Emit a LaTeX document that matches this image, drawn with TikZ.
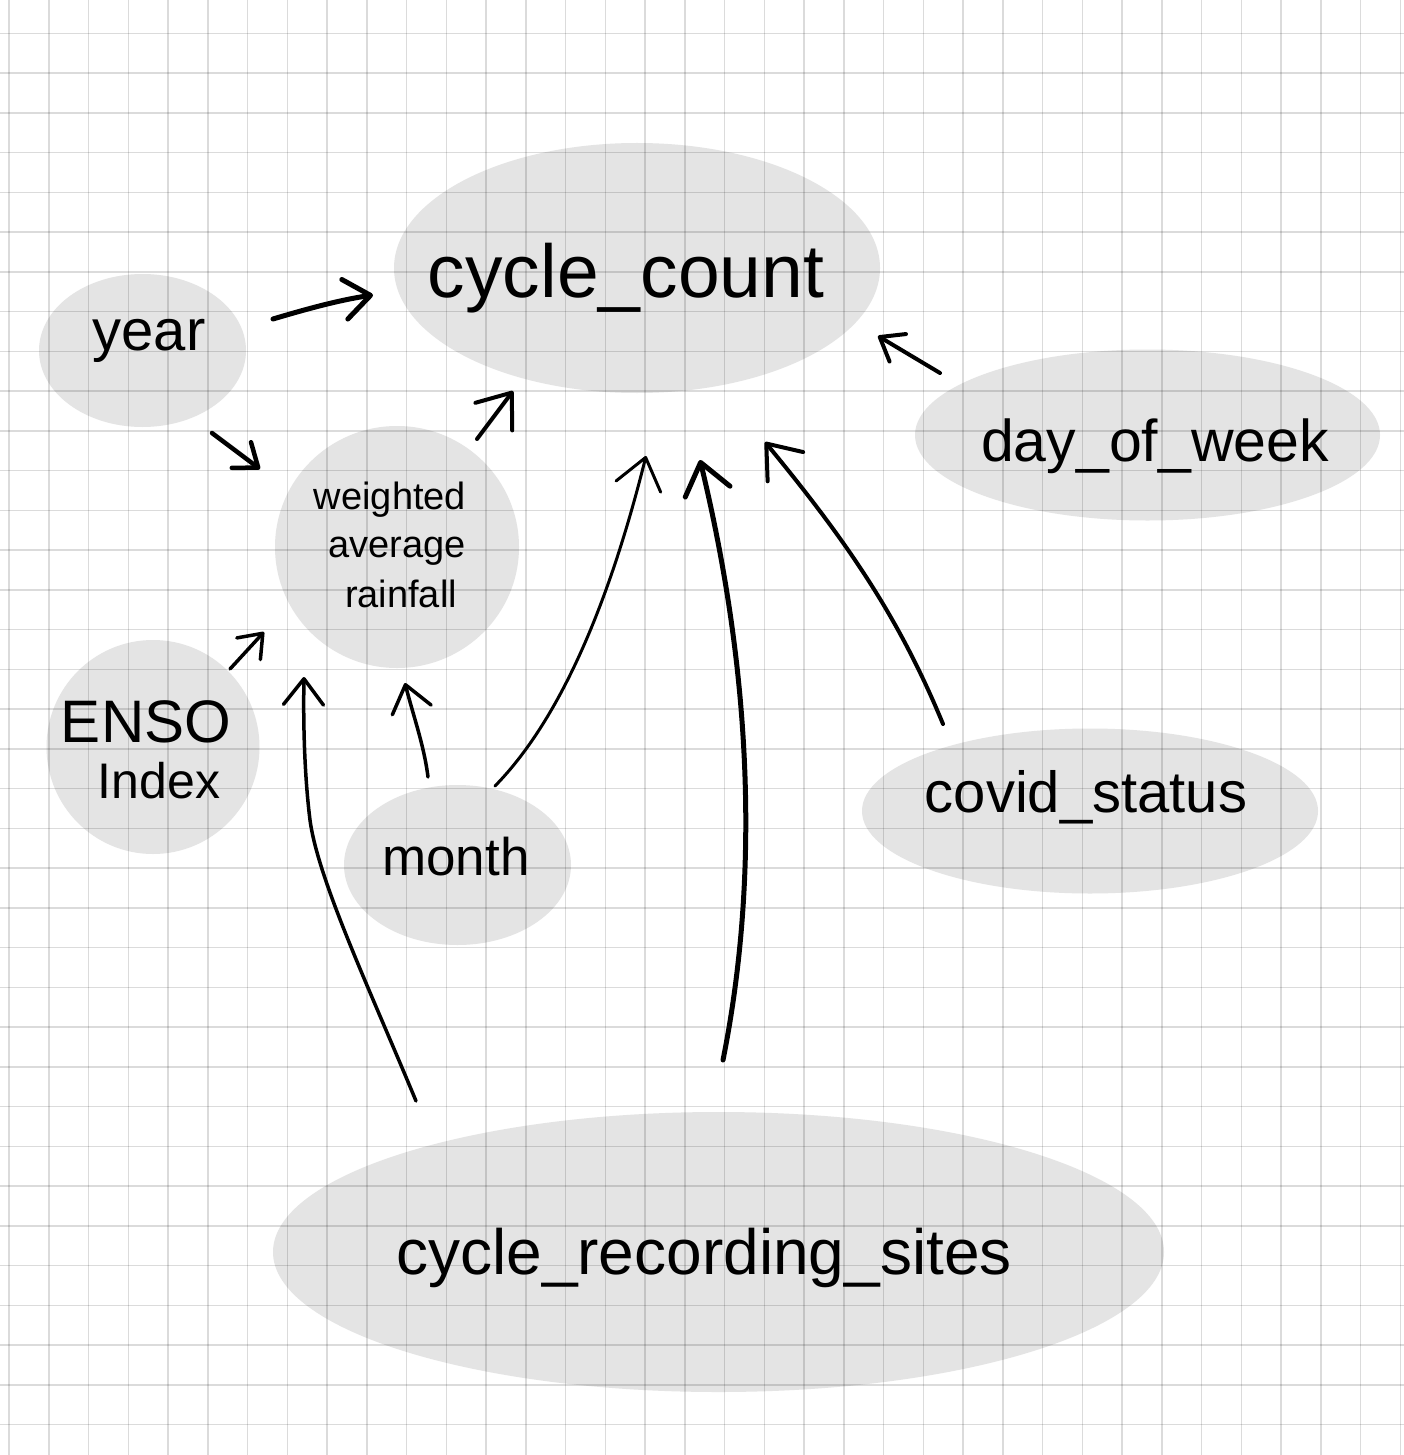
\documentclass[tikz,border=0pt]{standalone}
\usepackage{fontspec}
\setmainfont{Liberation Sans}
\usetikzlibrary{shapes.geometric,arrows.meta}
\definecolor{ellfill}{HTML}{E4E4E4}
\begin{document}
\begin{tikzpicture}[x=1pt,y=-1pt,
  blob/.style={ellipse,fill=ellfill,draw=none,inner sep=0pt},
  lbl/.style={anchor=base,inner sep=0pt,text=black},
  gridline/.style={black,opacity=0.14,line width=1.5pt},
  conn/.style={line cap=round,line join=round,draw=black},
  bighead/.style={-{Straight Barb[length=30pt,width=46pt,round]}},
  midhead/.style={-{Straight Barb[length=26pt,width=40pt,round]}},
  smallhead/.style={-{Straight Barb[length=21pt,width=32pt,round]}}
]
\fill[white] (0,0) rectangle (1404,1455);
\useasboundingbox (0,0) rectangle (1404,1455);

% ellipses
\node[blob,minimum width=486pt,minimum height=250pt] (cc) at (637,268) {};
\node[blob,minimum width=207pt,minimum height=153pt] (year) at (142.5,350.5) {};
\node[blob,minimum width=244pt,minimum height=242pt] (rain) at (397,547) {};
\node[blob,minimum width=213pt,minimum height=214pt] (enso) at (153,747) {};
\node[blob,minimum width=227pt,minimum height=160pt] (month) at (457.5,865) {};
\node[blob,minimum width=465pt,minimum height=171pt] (day) at (1147.5,435) {};
\node[blob,minimum width=456pt,minimum height=165pt] (covid) at (1090,811) {};
\node[blob,minimum width=891pt,minimum height=280pt] (sites) at (718.5,1252) {};

% grid
\foreach \i in {0,...,35} {
  \draw[gridline] ({9+39.75*\i},0) -- ({9+39.75*\i},1455);
}
\foreach \j in {0,...,35} {
  \draw[gridline] (0,{33.3+39.75*\j}) -- (1404,{33.3+39.75*\j});
}

% labels
\node[lbl,font=\fontsize{75pt}{80pt}\selectfont] (cc-t) at (626,297) {cycle\_count};
\node[lbl,font=\fontsize{58pt}{62pt}\selectfont] (year-t) at (149,350) {year};
\node[lbl,font=\fontsize{38pt}{42pt}\selectfont] (rain-t1) at (390,509) {weighted};
\node[lbl,font=\fontsize{38pt}{42pt}\selectfont] (rain-t2) at (397,557) {average};
\node[lbl,font=\fontsize{38pt}{42pt}\selectfont] (rain-t3) at (401,607) {rainfall};
\node[lbl,font=\fontsize{60pt}{64pt}\selectfont] (enso-t1) at (146,742) {ENSO};
\node[lbl,font=\fontsize{50pt}{54pt}\selectfont] (enso-t2) at (159,798) {Index};
\node[lbl,font=\fontsize{53pt}{57pt}\selectfont] (month-t) at (456,875) {month};
\node[lbl,font=\fontsize{59pt}{63pt}\selectfont] (day-t) at (1155,461) {day\_of\_week};
\node[lbl,font=\fontsize{58pt}{62pt}\selectfont] (covid-t) at (1086,812) {covid\_status};
\node[lbl,font=\fontsize{64pt}{68pt}\selectfont] (sites-t) at (704,1274) {cycle\_recording\_sites};

% connector end points
\coordinate (y2c-a) at (273,319);  \coordinate (y2c-b) at (373,295);
\coordinate (y2r-a) at (212,433);  \coordinate (y2r-b) at (260,469);
\coordinate (r2c-a) at (477,439);  \coordinate (r2c-b) at (513,391);
\coordinate (e2r-a) at (230,669);  \coordinate (e2r-b) at (264,632);
\coordinate (m2r-a) at (428,777);  \coordinate (m2r-b) at (405,683);
\coordinate (s2r-a) at (416,1101); \coordinate (s2r-m) at (310,820); \coordinate (s2r-b) at (304,677);
\coordinate (m2c-a) at (495,786);  \coordinate (m2c-b) at (646,456);
\coordinate (s2c-a) at (723,1060); \coordinate (s2c-b) at (700,460);
\coordinate (v2c-a) at (943,724);  \coordinate (v2c-b) at (765,442);
\coordinate (d2c-a) at (940,373);  \coordinate (d2c-b) at (878,336);

% connectors
\draw[conn,midhead,line width=5pt] (y2c-a) .. controls (310,308) and (340,300) .. (y2c-b);
\draw[conn,smallhead,line width=4.5pt] (y2r-a) -- (y2r-b);
\draw[conn,bighead,line width=4pt] (r2c-a) -- (r2c-b);
\draw[conn,smallhead,line width=3.5pt] (e2r-a) -- (e2r-b);
\draw[conn,midhead,line width=3.5pt] (m2r-a) .. controls (424,745) and (413,715) .. (m2r-b);
\draw[conn,midhead,line width=3.5pt] (s2r-a) .. controls (370,990) and (318,880) .. (s2r-m)
   .. controls (305,780) and (303,730) .. (s2r-b);
\draw[conn,bighead,line width=3pt] (m2c-a) .. controls (545,735) and (600,640) .. (m2c-b);
\draw[conn,bighead,line width=5pt] (s2c-a) .. controls (755,900) and (758,700) .. (s2c-b);
\draw[conn,bighead,line width=4pt] (v2c-a) .. controls (900,620) and (850,545) .. (v2c-b);
\draw[conn,smallhead,line width=4pt] (d2c-a) -- (d2c-b);
\end{tikzpicture}
\end{document}
